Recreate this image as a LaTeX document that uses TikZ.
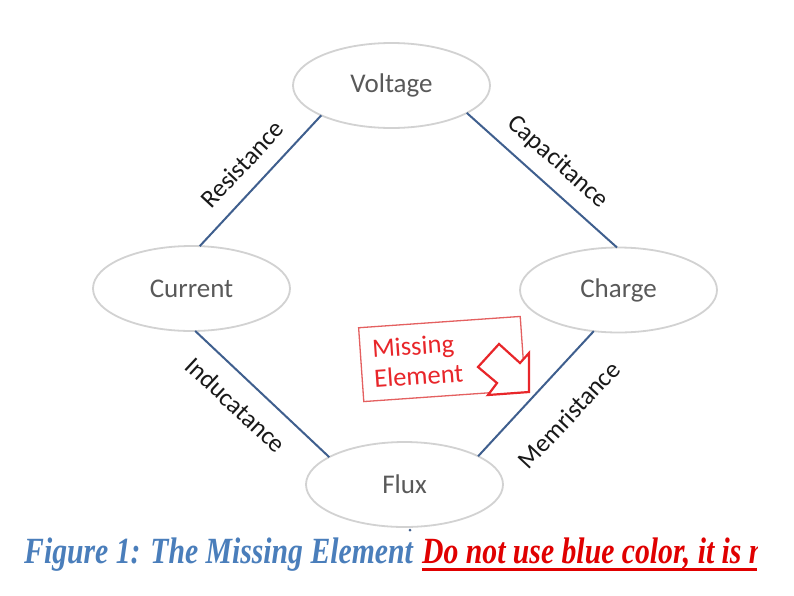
\documentclass[tikz,border=0pt]{standalone}
\usepackage{fontspec}
\setmainfont{Carlito}
\newfontfamily\capfont{Liberation Serif}
\usetikzlibrary{shapes.geometric}
\definecolor{ellgray}{HTML}{D2D2D2}
\definecolor{nodetext}{HTML}{595959}
\definecolor{linkblue}{HTML}{3F5F8E}
\definecolor{mered}{HTML}{E8262A}
\definecolor{meboxred}{HTML}{E46060}
\definecolor{capblue}{HTML}{4A7EBB}
\definecolor{capred}{HTML}{E00000}
\tikzset{
  qty/.style={ellipse, draw=ellgray, line width=1.8pt, fill=white,
    minimum width=197pt, minimum height=85pt, inner sep=0pt, outer sep=0pt,
    text=nodetext, font=\fontsize{27}{32}\selectfont},
  link/.style={draw=linkblue, line width=2pt},
  lbl/.style={inner sep=0pt, text=black!90, font=\fontsize{25.5}{30}\selectfont},
  mebox/.style={draw=meboxred, line width=1.3pt, fill=white, rotate=4,
    minimum width=162pt, minimum height=74pt, text width=138pt, align=left,
    inner sep=0pt, text=mered, font=\fontsize{26.5}{30}\selectfont},
  mearrow/.style={draw=mered, line width=2.2pt, fill=white, line join=miter},
  captxt/.style={inner sep=0pt, anchor=base west}
}
\begin{document}
\begin{tikzpicture}[x=1pt,y=-1pt]
\useasboundingbox[fill=white] (0,0) rectangle (794,595);

\node[qty] (V) at (391.5,85.5) {Voltage};
\node[qty] (C) at (191.5,288.5) {Current};
\node[qty] (Q) at (618.5,290) {Charge};
\node[qty] (F) at (404.5,484.5) {Flux};

\draw[link] (V.203) -- (C.79);
\draw[link] (V.340) -- (Q.92);
\draw[link] (C.275) -- (F.160);
\draw[link] (Q.239) -- (F.21);

\node[lbl, rotate=47] (lr) at (242,164) {Resistance};
\node[lbl, rotate=-41.5] (lc) at (558,162) {Capacitance};
\node[lbl, rotate=-43] (li) at (236,405) {Inducatance};
\node[lbl, rotate=47] (lm) at (569,415) {Memristance};

\node[mebox] (me) at (442,359) {Missing\\Element};
\draw[mearrow] (499,344) -- (520,363) -- (529,353) -- (529,392)
  -- (488,395) -- (497,383) -- (478,367) -- cycle;

\fill[linkblue] (410,530) circle (1.5);

\node[captxt, text=capblue] (cap) at (24,563)
  {\scalebox{0.9}[1.12]{\capfont\fontsize{33}{33}\selectfont\bfseries\itshape Figure 1: The Missing Element}};
\begin{scope}
\clip (0,0) rectangle (757,595);
\node[captxt, text=capred] (warn) at (422,563)
  {\scalebox{0.9}[1.12]{\capfont\fontsize{33}{33}\selectfont\bfseries\itshape Do not use blue color, it is n}};
\draw[capred, line width=3pt] (422,569) -- (757,569);
\end{scope}
\end{tikzpicture}
\end{document}
